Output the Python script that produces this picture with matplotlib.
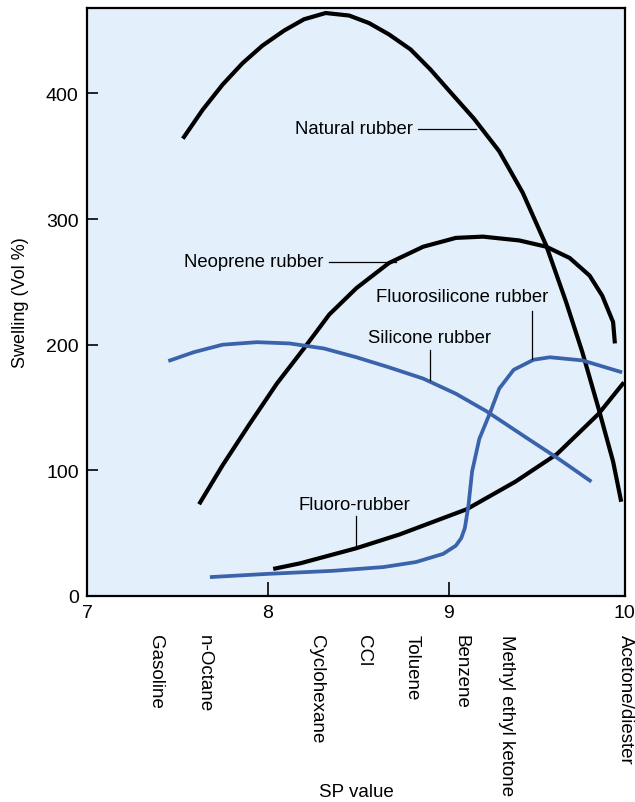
import numpy as np
import matplotlib
matplotlib.use("Agg")
from matplotlib import pyplot as plt

plt.rcParams['font.family'] = ['Liberation Sans', 'DejaVu Sans']

# swelling curves (SP value, swelling vol %)
natural_x = [7.53, 7.64, 7.75, 7.86, 7.97, 8.09, 8.20, 8.32, 8.45, 8.56, 8.67, 8.79,
             8.90, 9.01, 9.14, 9.28, 9.41, 9.54, 9.65, 9.74, 9.83, 9.91, 9.955]
natural_y = [364, 387, 407, 424, 438, 450, 459, 464, 462, 456, 447, 435,
             419, 401, 380, 354, 321, 279, 234, 194, 149, 107, 75]

neoprene_x = [7.62, 7.75, 7.90, 8.05, 8.20, 8.34, 8.49, 8.67, 8.86, 9.04, 9.19,
              9.39, 9.54, 9.67, 9.78, 9.85, 9.91, 9.92]
neoprene_y = [73, 104, 137, 169, 197, 224, 245, 265, 278, 285, 286,
              283, 278, 269, 255, 239, 218, 201]

silicone_x = [7.45, 7.59, 7.75, 7.94, 8.12, 8.31, 8.49, 8.67, 8.86, 9.04, 9.21,
              9.43, 9.61, 9.79]
silicone_y = [187, 194, 200, 202, 201, 197, 190, 182, 173, 161, 147,
              126, 109, 91]

fluorosil_x = [7.68, 7.99, 8.36, 8.64, 8.82, 8.97, 9.04, 9.07, 9.09, 9.11, 9.13, 9.17,
               9.23, 9.28, 9.36, 9.47, 9.56, 9.74, 9.96]
fluorosil_y = [15, 17.5, 20, 23, 27, 33.5, 40, 46, 54, 72, 99, 125,
               146, 165, 180, 188, 190, 187.5, 178]

fluoro_x = [8.03, 8.18, 8.49, 8.73, 9.10, 9.37, 9.60, 9.83, 9.97]
fluoro_y = [21.5, 26, 38, 49, 69, 91, 113, 145, 170]

solvents = ["Gasoline", "n-Octane", "Cyclohexane", "CCl", "Toluene", "Benzene",
            "Methyl ethyl ketone", "Acetone/diester"]
solvent_sp = [7.38, 7.65, 8.27, 8.53, 8.80, 9.07, 9.32, 9.98]

black = "#000000"
blue = "#3a63ab"

fig = plt.figure(figsize=(6.35, 8.03), dpi=100)
ax = fig.add_axes([0.137, 0.2566, 0.847, 0.7322])
ax.set_facecolor("#e3f0fb")

kw = dict(solid_capstyle='butt', solid_joinstyle='round')
ax.plot(natural_x, natural_y, color=black, lw=3.0, **kw)
ax.plot(neoprene_x, neoprene_y, color=black, lw=3.0, **kw)
ax.plot(fluoro_x, fluoro_y, color=black, lw=3.0, **kw)
ax.plot(silicone_x, silicone_y, color=blue, lw=2.7, **kw)
ax.plot(fluorosil_x, fluorosil_y, color=blue, lw=2.7, **kw)

ax.set_xlim(7, 9.975)
ax.set_ylim(0, 468)
ax.set_xticks([7, 8, 9, 9.975])
ax.set_xticklabels(["7", "8", "9", "10"])
ax.set_yticks([0, 100, 200, 300, 400])
ax.tick_params(direction='in', length=8, width=1.2, labelsize=14, pad=6)
ax.tick_params(axis='x', length=10)
for s in ax.spines.values():
    s.set_linewidth(1.6)

# curve labels with leader lines
fs = 13.3
ax.text(8.80, 372, "Natural rubber", fontsize=fs, ha='right', va='center')
ax.plot([8.83, 9.15], [372, 372], color=black, lw=0.9)
ax.text(8.31, 266, "Neoprene rubber", fontsize=fs, ha='right', va='center')
ax.plot([8.34, 8.71], [266, 266], color=black, lw=0.9)
ax.text(9.075, 238, "Fluorosilicone rubber", fontsize=fs, ha='center', va='center')
ax.plot([9.46, 9.46], [227, 189], color=black, lw=0.9)
ax.text(8.895, 206, "Silicone rubber", fontsize=fs, ha='center', va='center')
ax.plot([8.90, 8.90], [196, 172], color=black, lw=0.9)
ax.text(8.48, 73, "Fluoro-rubber", fontsize=fs, ha='center', va='center')
ax.plot([8.49, 8.49], [64, 38], color=black, lw=0.9)

for name, sp in zip(solvents, solvent_sp):
    ax.text(sp, -0.065, name, transform=ax.get_xaxis_transform(), rotation=270,
            ha='center', va='top', fontsize=13.5)

ax.text(0.5, -0.333, "SP value", transform=ax.transAxes, ha='center', va='center', fontsize=13.5)
ax.set_ylabel("Swelling (Vol %)", fontsize=13, labelpad=12)

fig.savefig("out.png", dpi=100)
